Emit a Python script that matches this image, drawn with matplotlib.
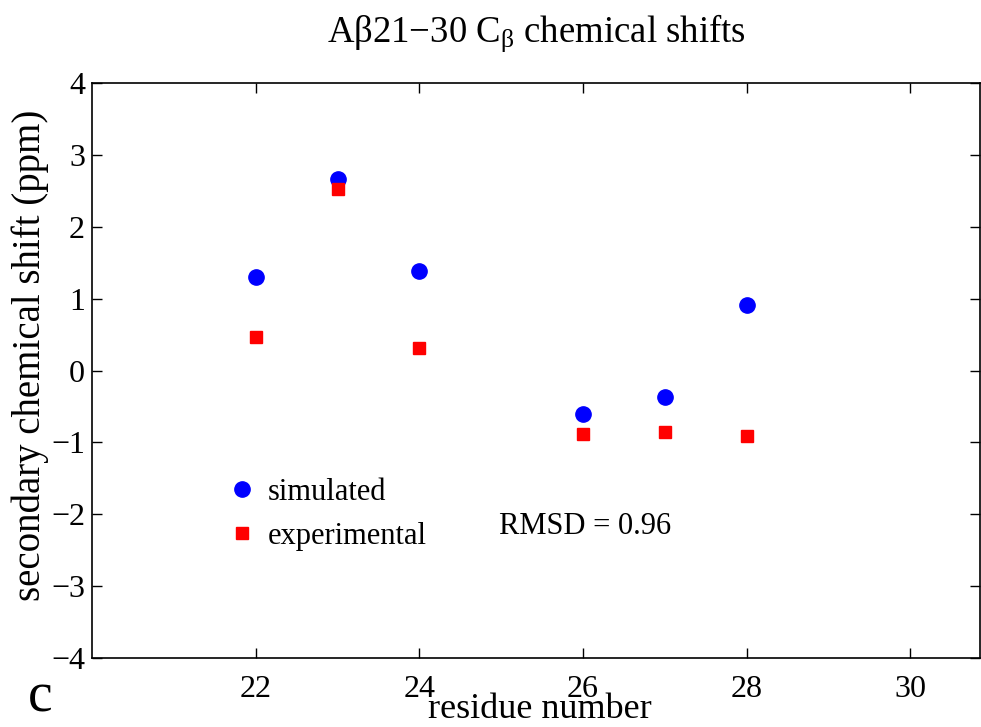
import matplotlib
matplotlib.use("Agg")
import matplotlib.pyplot as plt

plt.rcParams['font.family'] = ['Liberation Serif', 'DejaVu Serif']
plt.rcParams['mathtext.fontset'] = 'custom'
plt.rcParams['mathtext.rm'] = 'Liberation Serif'
plt.rcParams['mathtext.it'] = 'Liberation Serif:italic'

residues = [22, 23, 24, 26, 27, 28]
simulated = [1.30, 2.66, 1.39, -0.60, -0.37, 0.91]
experimental = [0.46, 2.52, 0.31, -0.89, -0.85, -0.91]
xticks = [22, 24, 26, 28, 30]
yticks = [-4, -3, -2, -1, 0, 1, 2, 3, 4]

fig = plt.figure(figsize=(9.81, 7.27), dpi=100)
ax = fig.add_axes([92/981, 1 - 658/727, (980 - 92)/981, (658 - 83)/727])

ax.plot(residues, simulated, 'o', color='#0000ff', markersize=11, label='simulated', linestyle='none')
ax.plot(residues, experimental, 's', color='#ff0000', markersize=8.5, label='experimental', linestyle='none')

ax.set_xlim(20, 30.85)
ax.set_ylim(-4, 4)
ax.set_xticks(xticks)
ax.set_yticks(yticks)
ax.set_yticklabels([str(v).replace('-', '\u2212') for v in yticks])
ax.tick_params(direction='in', top=True, right=True, labelsize=23, length=7, width=1)
ax.tick_params(axis='x', pad=12)
ax.tick_params(axis='y', pad=5)
for s in ax.spines.values():
    s.set_linewidth(1.2)

ax.set_title('A\u03b221\u221230 C$_{\\mathrm{\u03b2}}$ chemical shifts', fontsize=26.5, pad=30)

fig.text(540/981, 1/727, 'residue number', fontsize=26, ha='center', va='bottom')
ax.set_ylabel('secondary chemical shift (ppm)', fontsize=28)
ax.yaxis.set_label_coords(-0.07, 0.527)
ax.yaxis.label.set_va('center')

leg = ax.legend(loc='upper left', bbox_to_anchor=(0.138, 0.335), frameon=False,
                fontsize=22, numpoints=1, handlelength=1.0, handletextpad=0.35,
                labelspacing=0.5, borderaxespad=0)

ax.text(0.458, 0.216, 'RMSD = 0.96', transform=ax.transAxes, fontsize=22)
fig.text(28/981, 3/727, 'c', fontsize=40, ha='left', va='bottom')

fig.savefig('out.png', dpi=100)
